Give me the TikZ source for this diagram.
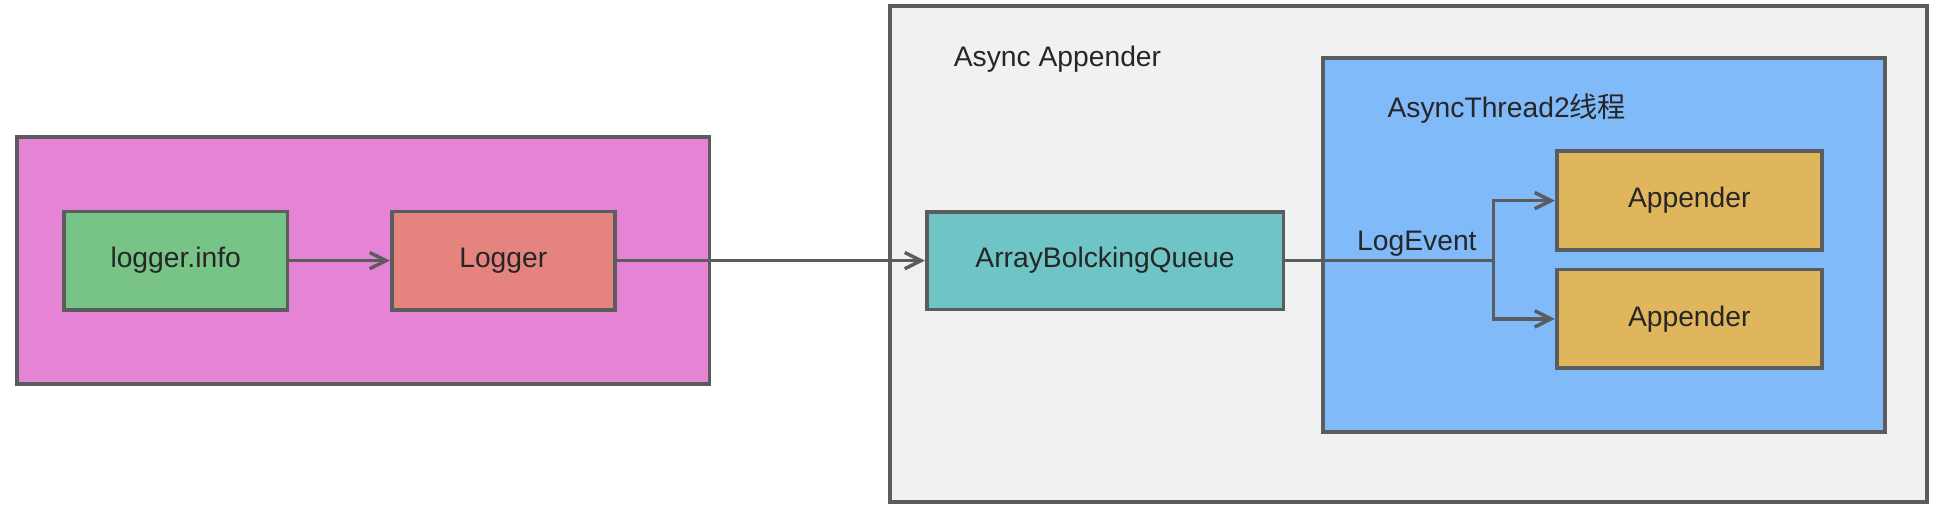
\documentclass[tikz,border=0pt]{standalone}
\usepackage{fontspec}
\setmainfont{Liberation Sans}
\newfontfamily\cjk{Noto Sans CJK SC}
\usetikzlibrary{arrows.meta}

\definecolor{edgegray}{HTML}{5A5C5E}
\definecolor{pinkbg}{HTML}{E584D4}
\definecolor{infogreen}{HTML}{78C386}
\definecolor{loggerred}{HTML}{E5847F}
\definecolor{asyncbg}{HTML}{F0F1F0}
\definecolor{threadblue}{HTML}{80BAF9}
\definecolor{queueteal}{HTML}{6FC5C5}
\definecolor{appgold}{HTML}{E0B65C}

\tikzset{
  box/.style={draw=edgegray, line width=1.5pt, rectangle, inner sep=0pt,
    font=\fontsize{11.3pt}{13pt}\selectfont, text=black!85},
  flow/.style={draw=edgegray, line width=1.35pt,
    -{Straight Barb[length=6.5pt,width=6.5pt]}},
  label/.style={font=\fontsize{11.3pt}{13pt}\selectfont, text=black!85, anchor=base west}
}

\begin{document}
\begin{tikzpicture}[x=0.5pt,y=-0.5pt]
\useasboundingbox (0,0) rectangle (1558.4,406.4);

% containers
\node [box, fill=pinkbg, minimum width=277.1pt, minimum height=98.6pt] (caller) at (290.4,208.5) {};
\node [box, fill=asyncbg, minimum width=414.75pt, minimum height=198.4pt] (async) at (1126.75,203.2) {};
\node [box, fill=threadblue, minimum width=224.8pt, minimum height=149.3pt] (thread) at (1283.2,196) {};

\node [label] (asynclabel) at (756,53.3) {Async Appender};
\node [label] (threadlabel) at (1103,93.9) {AsyncThread2{\cjk 线程}};

% boxes
\node [box, fill=infogreen, minimum width=89.35pt, minimum height=39.2pt] (info) at (140.55,208.5) {logger.info};
\node [box, fill=loggerred, minimum width=89.35pt, minimum height=39.2pt] (logger) at (402.65,208.5) {Logger};
\node [box, fill=queueteal, minimum width=142.7pt, minimum height=39pt] (queue) at (884,208.5) {ArrayBolckingQueue};
\node [box, fill=appgold, minimum width=106.1pt, minimum height=39.5pt] (app1) at (1351.4,160.5) {Appender};
\node [box, fill=appgold, minimum width=106.1pt, minimum height=39.5pt] (app2) at (1351.4,255.1) {Appender};

% connectors
\draw [flow] (info) -- (logger);
\draw [flow] (logger) -- (queue);

\coordinate (fork) at (1194.7,208.5);
\draw [draw=edgegray, line width=1.35pt] (queue.east) -- (fork);
\draw [flow] (fork) |- (app1.west);
\draw [flow] (fork) |- (app2.west);

\node [label] (eventlabel) at (1078.7,200.5) {LogEvent};

\end{tikzpicture}
\end{document}
